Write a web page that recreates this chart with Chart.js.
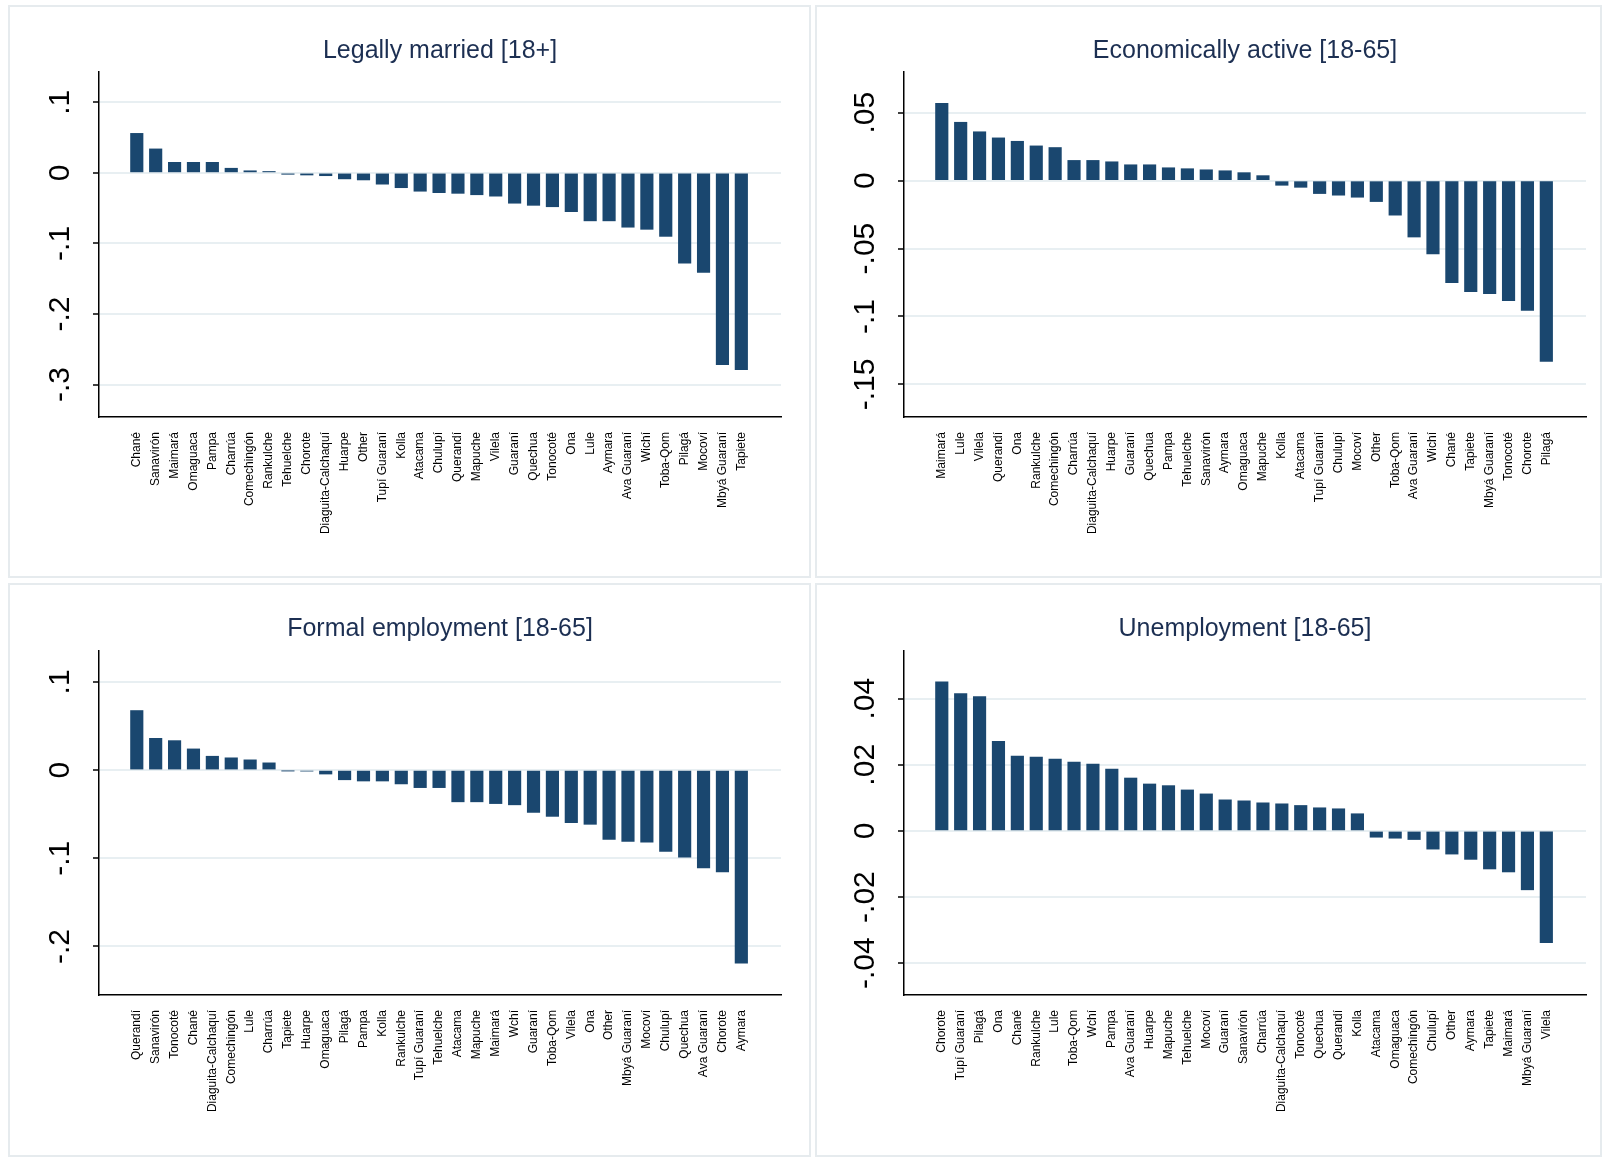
<!DOCTYPE html>
<html>
<head>
<meta charset="utf-8">
<title>Differences by indigenous group</title>
<script src="https://cdn.jsdelivr.net/npm/chart.js@4.4.0/dist/chart.umd.min.js"></script>
<style>
    html, body { margin: 0; padding: 0; background: #fff; overflow: hidden; }
    body { width: 1604px; height: 1157px; position: relative; }
    .frame { position: absolute; box-sizing: border-box; border: 2px solid #e6ebee; }
    canvas { position: absolute; }
</style>
</head>
<body>
<div class="frame" style="left:8px;top:5px;width:803px;height:573px"></div>
<div class="frame" style="left:815px;top:5px;width:787px;height:573px"></div>
<div class="frame" style="left:8px;top:583px;width:803px;height:574px"></div>
<div class="frame" style="left:815px;top:583px;width:787px;height:574px"></div>
<canvas id="married" width="803" height="573" style="left:8px;top:5px"></canvas>
<canvas id="active" width="787" height="573" style="left:815px;top:5px"></canvas>
<canvas id="formal" width="803" height="574" style="left:8px;top:583px"></canvas>
<canvas id="unemployed" width="787" height="574" style="left:815px;top:583px"></canvas>
<script>
// Legally married [18+]
const marriedGroups = ['Chané', 'Sanavirón', 'Maimará', 'Omaguaca', 'Pampa', 'Charrúa', 'Comechingón', 'Rankulche',
    'Tehuelche', 'Chorote', 'Diaguita-Calchaquí', 'Huarpe', 'Other', 'Tupí Guaraní', 'Kolla', 'Atacama', 'Chulupí',
    'Querandí', 'Mapuche', 'Vilela', 'Guaraní', 'Quechua', 'Tonocoté', 'Ona', 'Lule', 'Aymara', 'Ava Guaraní',
    'Wichí', 'Toba-Qom', 'Pilagá', 'Mocoví', 'Mbyá Guaraní', 'Tapiete'];
const marriedValues = [0.056, 0.034, 0.015, 0.015, 0.015, 0.0066, 0.003, 0.002, -0.002, -0.003, -0.004, -0.0085,
    -0.01, -0.016, -0.021, -0.026, -0.028, -0.029, -0.031, -0.033, -0.043, -0.046, -0.048, -0.055, -0.068, -0.068,
    -0.077, -0.080, -0.090, -0.128, -0.141, -0.272, -0.279];
const marriedTicks = [-0.3, -0.2, -0.1, 0, 0.1];
const marriedTickLabels = ['-.3', '-.2', '-.1', '0', '.1'];

// Economically active [18-65]
const activeGroups = ['Maimará', 'Lule', 'Vilela', 'Querandí', 'Ona', 'Rankulche', 'Comechingón', 'Charrúa',
    'Diaguita-Calchaquí', 'Huarpe', 'Guaraní', 'Quechua', 'Pampa', 'Tehuelche', 'Sanavirón', 'Aymara', 'Omaguaca',
    'Mapuche', 'Kolla', 'Atacama', 'Tupí Guaraní', 'Chulupí', 'Mocoví', 'Other', 'Toba-Qom', 'Ava Guaraní', 'Wichí',
    'Chané', 'Tapiete', 'Mbyá Guaraní', 'Tonocoté', 'Chorote', 'Pilagá'];
const activeValues = [0.057, 0.043, 0.036, 0.0315, 0.029, 0.0256, 0.0244, 0.0149, 0.0149, 0.0139, 0.0117, 0.0117,
    0.0095, 0.0088, 0.008, 0.0073, 0.0059, 0.0037, -0.0034, -0.0049, -0.0095, -0.0107, -0.0122, -0.0154, -0.0254,
    -0.0415, -0.0539, -0.0751, -0.0817, -0.0832, -0.0883, -0.0956, -0.133];
const activeTicks = [-0.15, -0.1, -0.05, 0, 0.05];
const activeTickLabels = ['-.15', '-.1', '-.05', '0', '.05'];

// Formal employment [18-65]
const formalGroups = ['Querandí', 'Sanavirón', 'Tonocoté', 'Chané', 'Diaguita-Calchaquí', 'Comechingón', 'Lule',
    'Charrúa', 'Tapiete', 'Huarpe', 'Omaguaca', 'Pilagá', 'Pampa', 'Kolla', 'Rankulche', 'Tupí Guaraní', 'Tehuelche',
    'Atacama', 'Mapuche', 'Maimará', 'Wchí', 'Guaraní', 'Toba-Qom', 'Vilela', 'Ona', 'Other', 'Mbyá Guaraní',
    'Mocoví', 'Chulupí', 'Quechua', 'Ava Guaraní', 'Chorote', 'Aymara'];
const formalValues = [0.0675, 0.036, 0.0334, 0.024, 0.0157, 0.0139, 0.0116, 0.0082, -0.0008, -0.0012, -0.0045,
    -0.011, -0.0124, -0.0124, -0.0157, -0.0199, -0.0199, -0.036, -0.036, -0.038, -0.0394, -0.048, -0.0525, -0.0596,
    -0.0615, -0.0787, -0.081, -0.0817, -0.0922, -0.0986, -0.111, -0.1155, -0.219];
const formalTicks = [-0.2, -0.1, 0, 0.1];
const formalTickLabels = ['-.2', '-.1', '0', '.1'];

// Unemployment [18-65]
const unemployedGroups = ['Chorote', 'Tupí Guaraní', 'Pilagá', 'Ona', 'Chané', 'Rankulche', 'Lule', 'Toba-Qom',
    'Wchí', 'Pampa', 'Ava Guaraní', 'Huarpe', 'Mapuche', 'Tehuelche', 'Mocoví', 'Guaraní', 'Sanavirón', 'Charrúa',
    'Diaguita-Calchaquí', 'Tonocoté', 'Quechua', 'Querandí', 'Kolla', 'Atacama', 'Omaguaca', 'Comechingón', 'Chulupí',
    'Other', 'Aymara', 'Tapiete', 'Maimará', 'Mbyá Guaraní', 'Vilela'];
const unemployedValues = [0.0451, 0.0415, 0.0406, 0.0271, 0.0226, 0.0223, 0.0217, 0.0208, 0.0202, 0.0187, 0.016,
    0.0142, 0.0137, 0.0124, 0.0112, 0.0094, 0.0091, 0.0085, 0.0082, 0.0077, 0.007, 0.0067, 0.0052, -0.0019, -0.0022,
    -0.0026, -0.0055, -0.007, -0.0086, -0.0115, -0.0124, -0.0178, -0.0338];
const unemployedTicks = [-0.04, -0.02, 0, 0.02, 0.04];
const unemployedTickLabels = ['-.04', '-.02', '0', '.02', '.04'];

const FONT = '"Liberation Sans", Arial, sans-serif';
const BAR_COLOR = '#1a476f';
const TITLE_COLOR = '#1c2f52';
const GRID_COLOR = '#e8eff2';

// y tick labels are drawn rotated, reading bottom to top (Stata style)
const rotatedYLabels = {
    id: 'rotatedYLabels',
    afterDraw(chart, args, opts) {
        const scale = chart.scales.y;
        const ctx = chart.ctx;
        ctx.save();
        ctx.font = opts.size + 'px ' + FONT;
        ctx.fillStyle = '#000';
        ctx.textAlign = 'center';
        ctx.textBaseline = 'middle';
        scale.ticks.forEach((tick, i) => {
            const y = scale.getPixelForValue(tick.value);
            ctx.save();
            ctx.translate(scale.right - opts.offset, y);
            ctx.rotate(-Math.PI / 2);
            ctx.fillText(opts.labels[i], 0, 0);
            ctx.restore();
        });
        ctx.restore();
    }
};

function buildPanel(p) {
    const ctx = document.getElementById(p.id).getContext('2d');
    const canvasHeight = ctx.canvas.height;

    return new Chart(ctx, {
        type: 'bar',
        data: {
            datasets: [{
                data: p.values.map((v, i) => ({ x: i, y: v })),
                backgroundColor: BAR_COLOR,
                borderWidth: 0,
                barThickness: 12.5
            }]
        },
        options: {
            responsive: false,
            animation: false,
            layout: { padding: { top: 0, left: 0, right: p.padRight, bottom: 0 } },
            plugins: {
                legend: { display: false },
                tooltip: { enabled: false },
                title: {
                    display: true,
                    text: p.title,
                    fullSize: false,
                    color: TITLE_COLOR,
                    font: { family: FONT, size: 25, weight: 'normal' },
                    padding: { top: 31, bottom: p.top - 61 }
                },
                rotatedYLabels: { labels: p.tickLabels, offset: 38, size: 30 }
            },
            scales: {
                x: {
                    type: 'linear',
                    offset: false,
                    min: -2,
                    max: 34.1,
                    afterBuildTicks: s => { s.ticks = p.groups.map((_, i) => ({ value: i })); },
                    afterFit: s => { s.height = canvasHeight - 412; },
                    grid: { display: false, drawTicks: false },
                    border: { display: true, color: '#000', width: 1.5 },
                    ticks: {
                        autoSkip: false,
                        minRotation: 90,
                        maxRotation: 90,
                        padding: 15,
                        color: '#000',
                        font: { family: FONT, size: 12 },
                        callback: (value, index) => p.groups[index]
                    }
                },
                y: {
                    min: p.yMin,
                    max: p.yMax,
                    afterBuildTicks: s => { s.ticks = p.ticks.map(v => ({ value: v })); },
                    afterFit: s => { s.width = p.left; },
                    grid: {
                        color: GRID_COLOR,
                        lineWidth: 2,
                        drawTicks: true,
                        tickLength: 6,
                        tickColor: '#000',
                        tickWidth: 1.5
                    },
                    border: { display: true, color: '#000', width: 1.5 },
                    ticks: { display: false }
                }
            }
        },
        plugins: [rotatedYLabels]
    });
}

buildPanel({ id: 'married', title: 'Legally married [18+]', groups: marriedGroups, values: marriedValues,
    ticks: marriedTicks, tickLabels: marriedTickLabels, yMin: -0.346, yMax: 0.143, left: 91, padRight: 30, top: 67 });
buildPanel({ id: 'active', title: 'Economically active [18-65]', groups: activeGroups, values: activeValues,
    ticks: activeTicks, tickLabels: activeTickLabels, yMin: -0.174, yMax: 0.080, left: 89, padRight: 16, top: 67 });
buildPanel({ id: 'formal', title: 'Formal employment [18-65]', groups: formalGroups, values: formalValues,
    ticks: formalTicks, tickLabels: formalTickLabels, yMin: -0.255, yMax: 0.135, left: 91, padRight: 30, top: 68 });
buildPanel({ id: 'unemployed', title: 'Unemployment [18-65]', groups: unemployedGroups, values: unemployedValues,
    ticks: unemployedTicks, tickLabels: unemployedTickLabels, yMin: -0.0496, yMax: 0.0544, left: 89, padRight: 16, top: 68 });
</script>
</body>
</html>
